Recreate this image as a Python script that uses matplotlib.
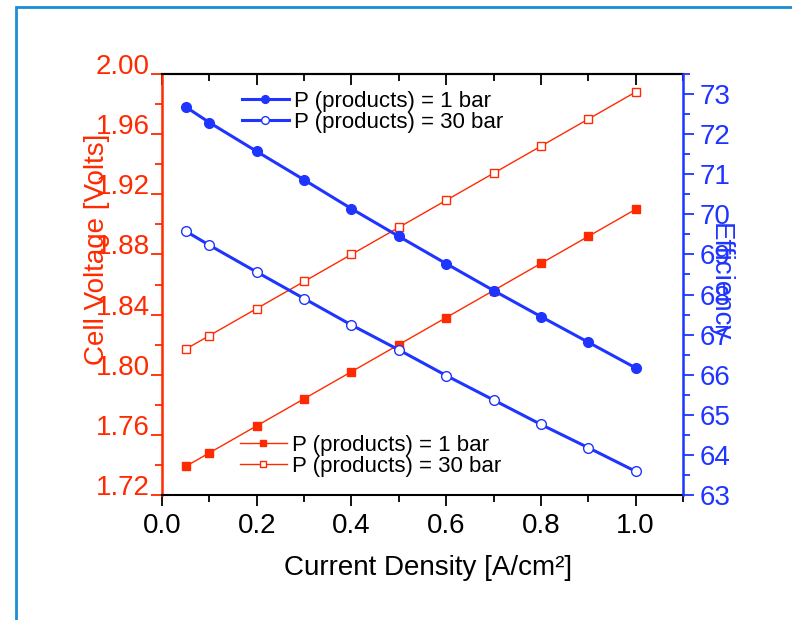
import matplotlib
matplotlib.use("Agg")
import matplotlib.pyplot as plt
from matplotlib.patches import Rectangle
from matplotlib.ticker import MultipleLocator

plt.rcParams['font.family'] = ['Liberation Sans', 'DejaVu Sans']

# ---- data ----
current_density = [0.05, 0.1, 0.2, 0.3, 0.4, 0.5, 0.6, 0.7, 0.8, 0.9, 1.0]
voltage_1bar = [1.739, 1.748, 1.766, 1.784, 1.802, 1.820, 1.838, 1.856, 1.874, 1.892, 1.910]
voltage_30bar = [1.817, 1.826, 1.844, 1.862, 1.880, 1.898, 1.916, 1.934, 1.952, 1.970, 1.988]
eff_1bar = [72.68, 72.29, 71.57, 70.86, 70.14, 69.45, 68.77, 68.10, 67.45, 66.81, 66.17]
eff_30bar = [69.58, 69.23, 68.56, 67.90, 67.24, 66.62, 65.98, 65.37, 64.76, 64.18, 63.59]
labels = ["P (products) = 1 bar", "P (products) = 30 bar"]
xticks = [0.0, 0.2, 0.4, 0.6, 0.8, 1.0]
vticks = [1.72, 1.76, 1.80, 1.84, 1.88, 1.92, 1.96, 2.00]
eticks = [63, 64, 65, 66, 67, 68, 69, 70, 71, 72, 73]

RED = "#ff2a00"
BLUE = "#1f35ff"
FRAME = "#1b8ed6"

W, H = 792, 620
fig = plt.figure(figsize=(W / 100, H / 100), dpi=100)
fig.patch.set_facecolor("white")

# outer blue frame
fig.add_artist(Rectangle((16 / W, -0.1), 1.2, 1.1 - 7 / H, transform=fig.transFigure,
                         fill=False, edgecolor=FRAME, linewidth=2.0))

L, R, T, B = 162, 683, 74, 495
ax = fig.add_axes([L / W, 1 - B / H, (R - L) / W, (B - T) / H])
ax2 = ax.twinx()

# red voltage series
h1, = ax.plot(current_density, voltage_1bar, '-s', color=RED, lw=1.0, ms=6,
              mfc=RED, mec=RED, mew=1.0)
h2, = ax.plot(current_density, voltage_30bar, '-s', color=RED, lw=1.0, ms=6,
              mfc='white', mec=RED, mew=1.0)
# blue efficiency series
h3, = ax2.plot(current_density, eff_1bar, '-o', color=BLUE, lw=2.2, ms=7,
               mfc=BLUE, mec=BLUE, mew=1.0)
h4, = ax2.plot(current_density, eff_30bar, '-o', color=BLUE, lw=2.2, ms=7,
               mfc='white', mec=BLUE, mew=1.0)

ax.set_xlim(0, 1.1)
ax.set_ylim(1.72, 2.00)
ax2.set_ylim(63, 73.5)

# x ticks
ax.set_xticks(xticks)
ax.set_xticklabels([f"{v:.1f}" for v in xticks])
ax.xaxis.set_minor_locator(MultipleLocator(0.1))
ax.tick_params(axis='x', which='major', direction='out', length=8, width=1.3,
               labelsize=20, pad=5, colors='black')
ax.tick_params(axis='x', which='minor', direction='out', length=5, width=1.3)
sec = ax.secondary_xaxis('top')
sec.set_xticks(xticks)
sec.xaxis.set_minor_locator(MultipleLocator(0.1))
sec.tick_params(axis='x', which='major', direction='in', length=8, width=1.3, labeltop=False)
sec.tick_params(axis='x', which='minor', direction='in', length=5, width=1.3)
sec.spines['top'].set_linewidth(1.5)

# left y ticks
ax.set_yticks(vticks)
ax.set_yticklabels([f"{v:.2f}" for v in vticks])
ax.yaxis.set_minor_locator(MultipleLocator(0.02))
ax.tick_params(axis='y', which='major', direction='out', length=8, width=1.3,
               labelsize=20, pad=1, colors=RED)
ax.tick_params(axis='y', which='minor', direction='out', length=5, width=1.3, colors=RED)
for lbl in ax.get_yticklabels():
    lbl.set_verticalalignment('baseline')

# right y ticks
ax2.set_yticks(eticks)
ax2.yaxis.set_minor_locator(MultipleLocator(0.5))
ax2.tick_params(axis='y', which='major', direction='out', length=8, width=1.3,
                labelsize=20, pad=4, colors=BLUE)
ax2.tick_params(axis='y', which='minor', direction='out', length=5, width=1.3, colors=BLUE)

# spines
for s in ['top', 'bottom']:
    ax.spines[s].set_color('black')
    ax.spines[s].set_linewidth(1.5)
ax.spines['left'].set_color(RED)
ax.spines['left'].set_linewidth(1.8)
ax.spines['right'].set_visible(False)
ax2.spines['right'].set_color(BLUE)
ax2.spines['right'].set_linewidth(1.8)
ax2.spines['left'].set_visible(False)
ax2.spines['top'].set_visible(False)
ax2.spines['bottom'].set_visible(False)

# axis titles
fig.text(97 / W, 1 - 249 / H, "Cell Voltage [Volts]", rotation=90, color=RED,
         fontsize=20, ha='center', va='center')
fig.text(720 / W, 1 - 282 / H, "Efficiency", rotation=270, color=BLUE,
         fontsize=20, ha='center', va='center')
fig.text(428 / W, 1 - 568 / H, "Current Density [A/cm²]", color='black',
         fontsize=20, ha='center', va='center')

# legends
leg_b = ax2.legend([h3, h4], labels, loc='upper left',
                   bbox_to_anchor=(242 / W, 1 - 91 / H), bbox_transform=fig.transFigure,
                   frameon=False, fontsize=16, handlelength=2.1, handletextpad=0.25,
                   labelspacing=0.0, borderpad=0, borderaxespad=0, markerscale=0.8)
leg_r = ax2.legend([h1, h2], labels, loc='upper left',
                   bbox_to_anchor=(240 / W, 1 - 435 / H), bbox_transform=fig.transFigure,
                   frameon=False, fontsize=16, handlelength=2.1, handletextpad=0.25,
                   labelspacing=0.0, borderpad=0, borderaxespad=0, markerscale=0.8)
ax2.add_artist(leg_b)

fig.savefig("out.png", dpi=100, facecolor='white')
